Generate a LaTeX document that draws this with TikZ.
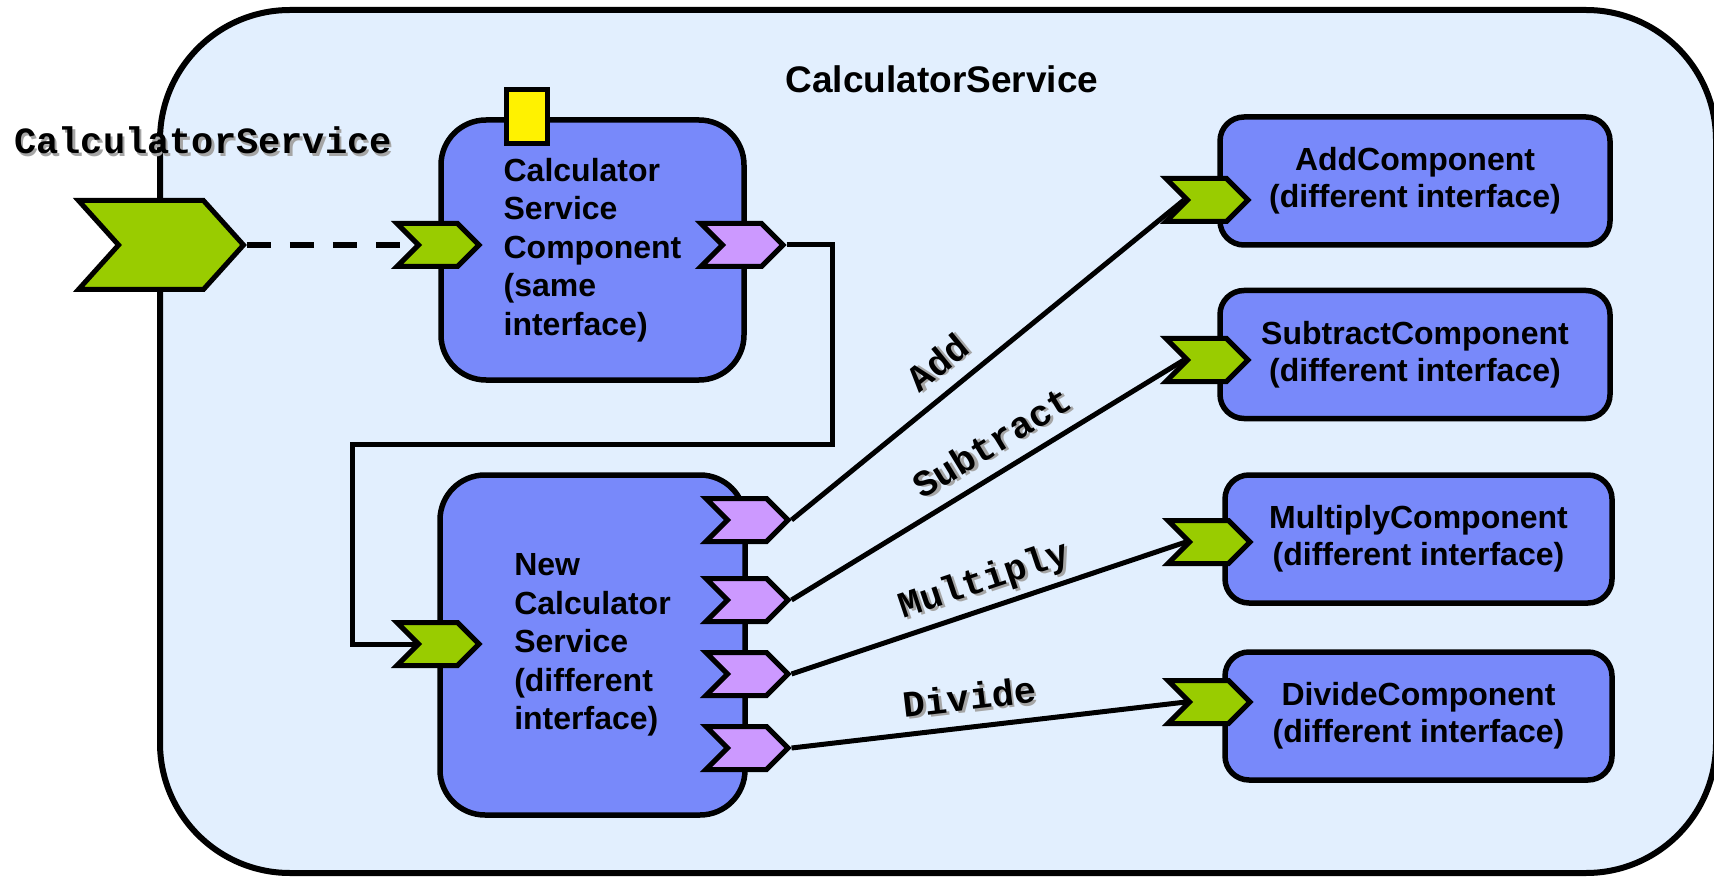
\documentclass[tikz,border=0pt]{standalone}
\usepackage{fontspec}
\setmainfont{Liberation Sans}
\setmonofont{Liberation Mono}
\usetikzlibrary{shapes.symbols}

\definecolor{sfondo}{RGB}{226,239,254}
\definecolor{blucomp}{RGB}{120,137,250}
\definecolor{verde}{RGB}{153,204,0}
\definecolor{viola}{RGB}{204,153,255}
\definecolor{ombra}{RGB}{165,165,165}

\newcommand{\ombreggia}[1]{\makebox[0pt][l]{\kern2.5pt\raisebox{-2.5pt}{\textcolor{ombra}{#1}}}#1}

\begin{document}
\begin{tikzpicture}[x=1pt, y=-1pt, line join=miter,
    comp/.style = {draw, line width=5.5pt, fill=blucomp, rounded corners=45pt, inner sep=0pt,
        align=left, font=\fontsize{32}{38.5}\selectfont\bfseries},
    foglia/.style = {comp, rounded corners=24pt, align=center, minimum width=390pt, minimum height=128pt,
        font=\fontsize{32}{37}\selectfont\bfseries},
    porta/.style = {draw, line width=5pt, shape=signal, signal from=west, signal to=east,
        signal pointer angle=90, minimum width=82pt, minimum height=43pt, inner sep=0pt},
    ingresso/.style = {porta, fill=verde},
    uscita/.style = {porta, fill=viola},
    filo/.style = {line width=5pt},
    etichetta/.style = {sloped, anchor=south, text depth=0pt, inner sep=0pt, outer sep=17pt,
        font=\fontsize{37}{37}\selectfont\ttfamily\bfseries}]
    \useasboundingbox (0,0) rectangle (1714,877);

    % Il servizio composito
    \node[draw, line width=6pt, fill=sfondo, rounded corners=130pt, minimum width=1556pt,
        minimum height=863pt, inner sep=0pt] (servizio) at (938,441.5) {};
    \node[font=\fontsize{37}{37}\selectfont\bfseries] (titolo) at (942,79) {CalculatorService};
    \node[font=\fontsize{37}{37}\selectfont\ttfamily\bfseries] (nome) at (203,142) {\ombreggia{CalculatorService}};
    \node[ingresso, minimum width=165pt, minimum height=89pt, signal pointer angle=96] (esterno) at (161,245) {};

    % Disegna i componenti
    \node[comp, minimum width=303pt, minimum height=260pt] (csc) at (592.5,250)
        {Calculator\\Service\\Component\\(same\\interface)};
    \node[draw, line width=5pt, fill=yellow, minimum width=41pt, minimum height=54pt, inner sep=0pt] (prop) at (526.5,117) {};
    \node[comp, minimum width=305pt, minimum height=340pt] (ncs) at (592.5,645)
        {New\\Calculator\\Service\\(different\\interface)};

    \node[foglia] (addc) at (1415,181) {AddComponent\\(different interface)};
    \node[foglia] (subc) at (1415,354.5) {SubtractComponent\\(different interface)};
    \node[foglia, minimum width=387pt] (mulc) at (1418.5,539) {MultiplyComponent\\(different interface)};
    \node[foglia, minimum width=387pt] (divc) at (1418.5,716) {DivideComponent\\(different interface)};

    % Porte
    \node[ingresso] (cscin) at (438,245) {};
    \node[uscita] (cscout) at (742,245) {};
    \node[ingresso] (ncsin) at (438,644) {};
    \foreach \n/\y in {1/520, 2/600, 3/674, 4/748}
        \node[uscita] (ncsout\n) at (747,\y) {};
    \node[ingresso] (addin) at (1207,200) {};
    \node[ingresso] (subin) at (1207,360) {};
    \node[ingresso] (mulin) at (1209,542) {};
    \node[ingresso] (divin) at (1209,702) {};

    % Collegamenti
    \draw[filo, line width=6pt, dash pattern=on 24pt off 19pt] (esterno.east) -- (cscin.west);
    \draw[filo] (cscout.east) -| (832,444) -| (352,644) -- (ncsin.west);
    \draw[filo] (ncsout1.east) -- node[etichetta, pos=0.42] {\ombreggia{Add}} (addin.west);
    \draw[filo] (ncsout2.east) -- node[etichetta, pos=0.55] {\ombreggia{Subtract}} (subin.west);
    \draw[filo] (ncsout3.east) -- node[etichetta, pos=0.51] {\ombreggia{Multiply}} (mulin.west);
    \draw[filo] (ncsout4.east) -- node[etichetta, pos=0.46] {\ombreggia{Divide}} (divin.west);

\end{tikzpicture}
\end{document}
